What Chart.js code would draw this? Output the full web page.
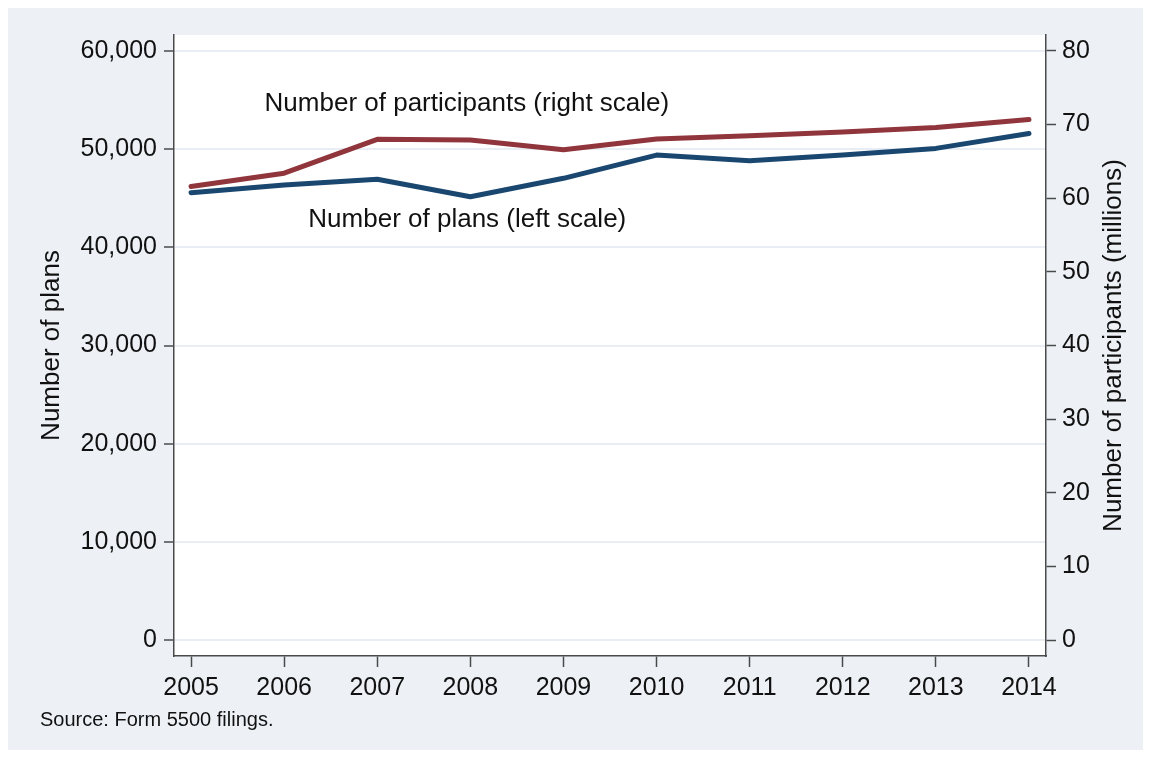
<!DOCTYPE html>
<html>
<head>
<meta charset="utf-8">
<script src="https://cdn.jsdelivr.net/npm/chart.js@4"></script>
<style>
  body { margin: 0; background: #ffffff; }
  canvas { display: block; }
</style>
</head>
<body>
<canvas id="planChart" width="1151" height="758"></canvas>
<script>
// Data
const years = [2005, 2006, 2007, 2008, 2009, 2010, 2011, 2012, 2013, 2014];
const plans = [45570, 46350, 46930, 45160, 47030, 49400, 48820, 49400, 50080, 51600];
const participants = [61.6, 63.4, 68.0, 67.9, 66.6, 68.05, 68.5, 69.0, 69.6, 70.7];
const planTicks = [0, 10000, 20000, 30000, 40000, 50000, 60000];
const participantTicks = [0, 10, 20, 30, 40, 50, 60, 70, 80];

const FONT = "'Liberation Sans', Arial, Helvetica, sans-serif";
const navy = "#1a476f";
const maroon = "#90353b";
const panelColor = "#edf1f6";
const axisColor = "#4a4a4a";

// Draw the panel background, labels on the lines, axis titles and the source note
const decorations = {
    id: "decorations",
    beforeDraw(chart) {
        const ctx = chart.ctx;
        const area = chart.chartArea;
        ctx.save();
        ctx.fillStyle = "#ffffff";
        ctx.fillRect(0, 0, chart.width, chart.height);
        ctx.fillStyle = panelColor;
        ctx.fillRect(8, 8, 1135, 742);
        ctx.fillStyle = "#ffffff";
        ctx.fillRect(area.left, area.top, area.right - area.left, area.bottom - area.top);
        ctx.restore();
    },
    afterDraw(chart) {
        const ctx = chart.ctx;
        const x = chart.scales.x;
        const y = chart.scales.y;
        const y1 = chart.scales.y1;
        ctx.save();
        ctx.fillStyle = "#111111";
        ctx.textBaseline = "middle";
        ctx.textAlign = "left";
        ctx.font = "26px " + FONT;
        ctx.fillText("Number of participants (right scale)", x.getPixelForValue(2005.79), y1.getPixelForValue(72.8));
        ctx.fillText("Number of plans (left scale)", x.getPixelForValue(2006.26), y.getPixelForValue(42800));

        // axis titles, both read from bottom to top
        const midY = (chart.chartArea.top + chart.chartArea.bottom) / 2;
        ctx.textAlign = "center";
        ctx.save();
        ctx.translate(52, midY);
        ctx.rotate(-Math.PI / 2);
        ctx.fillText("Number of plans", 0, 0);
        ctx.restore();
        ctx.save();
        ctx.translate(1114, midY);
        ctx.rotate(-Math.PI / 2);
        ctx.fillText("Number of participants (millions)", 0, 0);
        ctx.restore();

        ctx.textAlign = "left";
        ctx.font = "20px " + FONT;
        ctx.fillText("Source: Form 5500 filings.", 40, 720);
        ctx.restore();
    }
};

const ctx = document.getElementById("planChart").getContext("2d");

new Chart(ctx, {
    type: "line",
    data: {
        datasets: [
            {
                label: "Number of plans",
                data: years.map((yr, i) => ({ x: yr, y: plans[i] })),
                borderColor: navy,
                borderWidth: 5,
                borderCapStyle: "round",
                borderJoinStyle: "round",
                pointRadius: 0,
                tension: 0,
                yAxisID: "y"
            },
            {
                label: "Number of participants",
                data: years.map((yr, i) => ({ x: yr, y: participants[i] })),
                borderColor: maroon,
                borderWidth: 5,
                borderCapStyle: "round",
                borderJoinStyle: "round",
                pointRadius: 0,
                tension: 0,
                yAxisID: "y1"
            }
        ]
    },
    options: {
        responsive: false,
        animation: false,
        devicePixelRatio: 1,
        layout: { padding: { left: 0, right: 0, top: 35, bottom: 0 } },
        plugins: {
            legend: { display: false },
            tooltip: { enabled: false }
        },
        scales: {
            x: {
                type: "linear",
                min: 2004.817,
                max: 2014.183,
                afterBuildTicks: (scale) => { scale.ticks = years.map(v => ({ value: v })); },
                afterFit: (scale) => { scale.height = 102; },
                ticks: {
                    callback: (v) => String(v),
                    color: "#111111",
                    font: { family: FONT, size: 25 },
                    padding: 6,
                    maxRotation: 0,
                    autoSkip: false
                },
                grid: {
                    drawOnChartArea: false,
                    tickLength: 11,
                    tickColor: axisColor,
                    tickWidth: 1.5
                },
                border: { color: axisColor, width: 1.5 }
            },
            y: {
                position: "left",
                min: -1630,
                max: 61630,
                afterBuildTicks: (scale) => { scale.ticks = planTicks.map(v => ({ value: v })); },
                afterFit: (scale) => { scale.width = 174; },
                ticks: {
                    callback: (v) => v.toLocaleString("en-US"),
                    color: "#111111",
                    font: { family: FONT, size: 25 },
                    padding: 7
                },
                grid: {
                    color: "#e9eef4",
                    lineWidth: 2,
                    tickLength: 10,
                    tickColor: axisColor,
                    tickWidth: 1.5
                },
                border: { color: axisColor, width: 1.5 }
            },
            y1: {
                position: "right",
                min: -2.17,
                max: 82.17,
                afterBuildTicks: (scale) => { scale.ticks = participantTicks.map(v => ({ value: v })); },
                afterFit: (scale) => { scale.width = 105; },
                ticks: {
                    callback: (v) => String(v),
                    color: "#111111",
                    font: { family: FONT, size: 25 },
                    padding: 6
                },
                grid: {
                    drawOnChartArea: false,
                    tickLength: 10,
                    tickColor: axisColor,
                    tickWidth: 1.5
                },
                border: { color: axisColor, width: 1.5 }
            }
        }
    },
    plugins: [decorations]
});
</script>
</body>
</html>
